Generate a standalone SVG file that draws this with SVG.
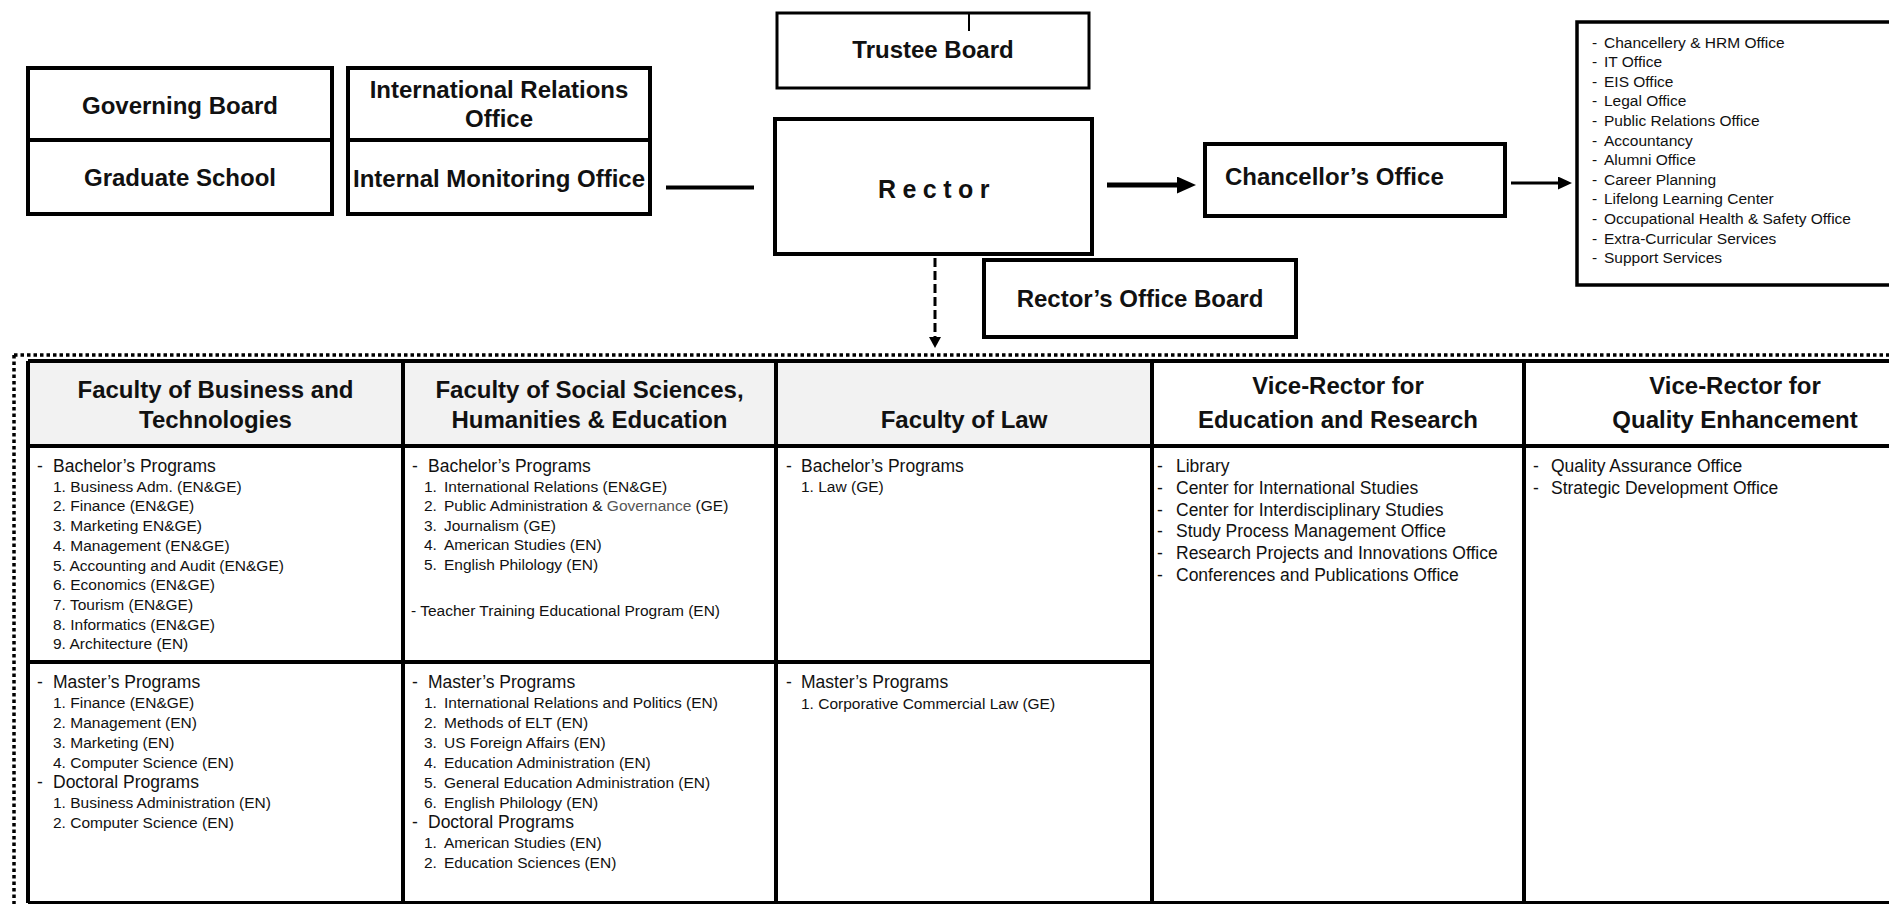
<svg xmlns="http://www.w3.org/2000/svg" width="1889" height="904" viewBox="0 0 1889 904">
<style>
text{font-family:"Liberation Sans",Arial,sans-serif;fill:#111}
.lbl{font-size:24px;font-weight:bold;text-anchor:middle}
.hd{font-size:24px;font-weight:bold;text-anchor:middle}
.bh{font-size:17.5px}
.it{font-size:15.5px}
.vr{font-size:17.5px}
.ls{font-size:15.5px}
.box{fill:#fff;stroke:#000;stroke-width:4}
.tl{stroke:#000;stroke-width:4;fill:none}
</style>
<defs>
<marker id="ahBig" markerUnits="userSpaceOnUse" markerWidth="19" markerHeight="17" refX="3" refY="8.5" orient="auto"><path d="M0,0 L19,8.5 L0,17 z" fill="#000"/></marker>
<marker id="ahSm" markerUnits="userSpaceOnUse" markerWidth="14" markerHeight="13" refX="2" refY="6.5" orient="auto"><path d="M0,0 L14,6.5 L0,13 z" fill="#000"/></marker>
<marker id="ahDn" markerUnits="userSpaceOnUse" markerWidth="11" markerHeight="12" refX="1" refY="6" orient="auto"><path d="M0,0 L11,6 L0,12 z" fill="#000"/></marker>
</defs>
<rect width="1889" height="904" fill="#fff"/>

<g id="connectors">
<line x1="969" y1="13" x2="969" y2="31" stroke="#000" stroke-width="2"/>
<line x1="666" y1="187.5" x2="754" y2="187.5" stroke="#000" stroke-width="4"/>
<line x1="1107" y1="185" x2="1180" y2="185" stroke="#000" stroke-width="5" marker-end="url(#ahBig)"/>
<line x1="1511" y1="183" x2="1560" y2="183" stroke="#000" stroke-width="3" marker-end="url(#ahSm)"/>
<line x1="935" y1="258" x2="935" y2="338" stroke="#000" stroke-width="3" stroke-dasharray="9 4" marker-end="url(#ahDn)"/>
</g>

<g id="governing-board">
<rect class="box" x="28" y="68" width="304" height="72"/>
<text class="lbl" x="180" y="114">Governing Board</text>
</g>
<g id="graduate-school">
<rect class="box" x="28" y="140" width="304" height="74"/>
<text class="lbl" x="180" y="186">Graduate School</text>
</g>
<g id="international-relations-office">
<rect class="box" x="348" y="68" width="302" height="72"/>
<text class="lbl" x="499" y="98">International Relations</text>
<text class="lbl" x="499" y="127">Office</text>
</g>
<g id="internal-monitoring-office">
<rect class="box" x="348" y="140" width="302" height="74"/>
<text class="lbl" x="499" y="187">Internal Monitoring Office</text>
</g>
<g id="trustee-board">
<rect x="777" y="13" width="312" height="75" fill="none" stroke="#000" stroke-width="3"/>
<text class="lbl" x="933" y="58">Trustee Board</text>
</g>
<g id="rector">
<rect class="box" x="775" y="119" width="317" height="135"/>
<text class="lbl" x="937" y="198" style="font-size:25px;letter-spacing:6.5px">Rector</text>
</g>
<g id="chancellors-office">
<rect class="box" x="1205" y="144" width="300" height="72"/>
<text x="1225" y="185" style="font-size:24px;font-weight:bold">Chancellor’s Office</text>
</g>
<g id="rectors-office-board">
<rect class="box" x="984" y="260" width="312" height="77"/>
<text class="lbl" x="1140" y="307">Rector’s Office Board</text>
</g>
<g id="chancellery-units">
<rect x="1577" y="22" width="330" height="263" fill="#fff" stroke="#000" stroke-width="3.5"/>
<text class="ls" x="1592" y="47.5">-<tspan x="1604">Chancellery &amp; HRM Office</tspan></text>
<text class="ls" x="1592" y="67.1">-<tspan x="1604">IT Office</tspan></text>
<text class="ls" x="1592" y="86.7">-<tspan x="1604">EIS Office</tspan></text>
<text class="ls" x="1592" y="106.3">-<tspan x="1604">Legal Office</tspan></text>
<text class="ls" x="1592" y="125.9">-<tspan x="1604">Public Relations Office</tspan></text>
<text class="ls" x="1592" y="145.5">-<tspan x="1604">Accountancy</tspan></text>
<text class="ls" x="1592" y="165.1">-<tspan x="1604">Alumni Office</tspan></text>
<text class="ls" x="1592" y="184.7">-<tspan x="1604">Career Planning</tspan></text>
<text class="ls" x="1592" y="204.3">-<tspan x="1604">Lifelong Learning Center</tspan></text>
<text class="ls" x="1592" y="223.9">-<tspan x="1604">Occupational Health &amp; Safety Office</tspan></text>
<text class="ls" x="1592" y="243.5">-<tspan x="1604">Extra-Curricular Services</tspan></text>
<text class="ls" x="1592" y="263.1">-<tspan x="1604">Support Services</tspan></text>
</g>

<g id="subordinate-units-frame">
<path d="M14,355 H1889 M14,355 V904" fill="none" stroke="#000" stroke-width="3.5" stroke-dasharray="3.5 3"/>
<rect x="28" y="361" width="1124" height="85" fill="#f2f2f2"/>
<path class="tl" d="M28,361 H1895 M28,446 H1895 M28,662 H1152 M28,903 H1895 M28,361 V903 M403,361 V903 M776,361 V903 M1152,361 V903 M1524,361 V903"/>
</g>

<g id="faculty-business">
<text class="hd" x="215.5" y="398">Faculty of Business and</text>
<text class="hd" x="215.5" y="428">Technologies</text>
<text class="bh" x="37" y="472">-<tspan x="53">Bachelor’s Programs</tspan></text>
<text class="it" x="53" y="491.7">1. Business Adm. (EN&amp;GE)</text>
<text class="it" x="53" y="511.4">2. Finance (EN&amp;GE)</text>
<text class="it" x="53" y="531.1">3. Marketing EN&amp;GE)</text>
<text class="it" x="53" y="550.8">4. Management (EN&amp;GE)</text>
<text class="it" x="53" y="570.5">5. Accounting and Audit (EN&amp;GE)</text>
<text class="it" x="53" y="590.2">6. Economics (EN&amp;GE)</text>
<text class="it" x="53" y="609.9">7. Tourism (EN&amp;GE)</text>
<text class="it" x="53" y="629.6">8. Informatics (EN&amp;GE)</text>
<text class="it" x="53" y="649.3">9. Architecture (EN)</text>
<text class="bh" x="37" y="688">-<tspan x="53">Master’s Programs</tspan></text>
<text class="it" x="53" y="708">1. Finance (EN&amp;GE)</text>
<text class="it" x="53" y="728">2. Management (EN)</text>
<text class="it" x="53" y="748">3. Marketing (EN)</text>
<text class="it" x="53" y="767.5">4. Computer Science (EN)</text>
<text class="bh" x="37" y="788">-<tspan x="53">Doctoral Programs</tspan></text>
<text class="it" x="53" y="808">1. Business Administration (EN)</text>
<text class="it" x="53" y="828">2. Computer Science (EN)</text>
</g>

<g id="faculty-social-sciences">
<text class="hd" x="589.5" y="398">Faculty of Social Sciences,</text>
<text class="hd" x="589.5" y="428">Humanities &amp; Education</text>
<text class="bh" x="412" y="472">-<tspan x="428">Bachelor’s Programs</tspan></text>
<text class="it" x="424" y="491.5">1.<tspan x="444">International Relations (EN&amp;GE)</tspan></text>
<text class="it" x="424" y="511">2.<tspan x="444">Public Administration &amp; </tspan><tspan fill="#555">Governance</tspan> (GE)</text>
<text class="it" x="424" y="530.5">3.<tspan x="444">Journalism (GE)</tspan></text>
<text class="it" x="424" y="550">4.<tspan x="444">American Studies (EN)</tspan></text>
<text class="it" x="424" y="569.5">5.<tspan x="444">English Philology (EN)</tspan></text>
<text class="it" x="411" y="616">- Teacher Training Educational Program (EN)</text>
<text class="bh" x="412" y="688">-<tspan x="428">Master’s Programs</tspan></text>
<text class="it" x="424" y="708">1.<tspan x="444">International Relations and Politics (EN)</tspan></text>
<text class="it" x="424" y="728">2.<tspan x="444">Methods of ELT (EN)</tspan></text>
<text class="it" x="424" y="748">3.<tspan x="444">US Foreign Affairs (EN)</tspan></text>
<text class="it" x="424" y="767.5">4.<tspan x="444">Education Administration (EN)</tspan></text>
<text class="it" x="424" y="787.5">5.<tspan x="444">General Education Administration (EN)</tspan></text>
<text class="it" x="424" y="807.5">6.<tspan x="444">English Philology (EN)</tspan></text>
<text class="bh" x="412" y="828">-<tspan x="428">Doctoral Programs</tspan></text>
<text class="it" x="424" y="848">1.<tspan x="444">American Studies (EN)</tspan></text>
<text class="it" x="424" y="868">2.<tspan x="444">Education Sciences (EN)</tspan></text>
</g>

<g id="faculty-law">
<text class="hd" x="964" y="428">Faculty of Law</text>
<text class="bh" x="786" y="472">-<tspan x="801">Bachelor’s Programs</tspan></text>
<text class="it" x="801" y="492">1. Law (GE)</text>
<text class="bh" x="786" y="688">-<tspan x="801">Master’s Programs</tspan></text>
<text class="it" x="801" y="709">1. Corporative Commercial Law (GE)</text>
</g>

<g id="vice-rector-education-research">
<text class="hd" x="1338" y="394">Vice-Rector for</text>
<text class="hd" x="1338" y="428">Education and Research</text>
<text class="vr" x="1157" y="472">-<tspan x="1176">Library</tspan></text>
<text class="vr" x="1157" y="494">-<tspan x="1176">Center for International Studies</tspan></text>
<text class="vr" x="1157" y="515.5">-<tspan x="1176">Center for Interdisciplinary Studies</tspan></text>
<text class="vr" x="1157" y="537">-<tspan x="1176">Study Process Management Office</tspan></text>
<text class="vr" x="1157" y="559">-<tspan x="1176">Research Projects and Innovations Office</tspan></text>
<text class="vr" x="1157" y="581">-<tspan x="1176">Conferences and Publications Office</tspan></text>
</g>

<g id="vice-rector-quality">
<text class="hd" x="1735" y="394">Vice-Rector for</text>
<text class="hd" x="1735" y="428">Quality Enhancement</text>
<text class="vr" x="1533" y="472">-<tspan x="1551">Quality Assurance Office</tspan></text>
<text class="vr" x="1533" y="494">-<tspan x="1551">Strategic Development Office</tspan></text>
</g>
</svg>
